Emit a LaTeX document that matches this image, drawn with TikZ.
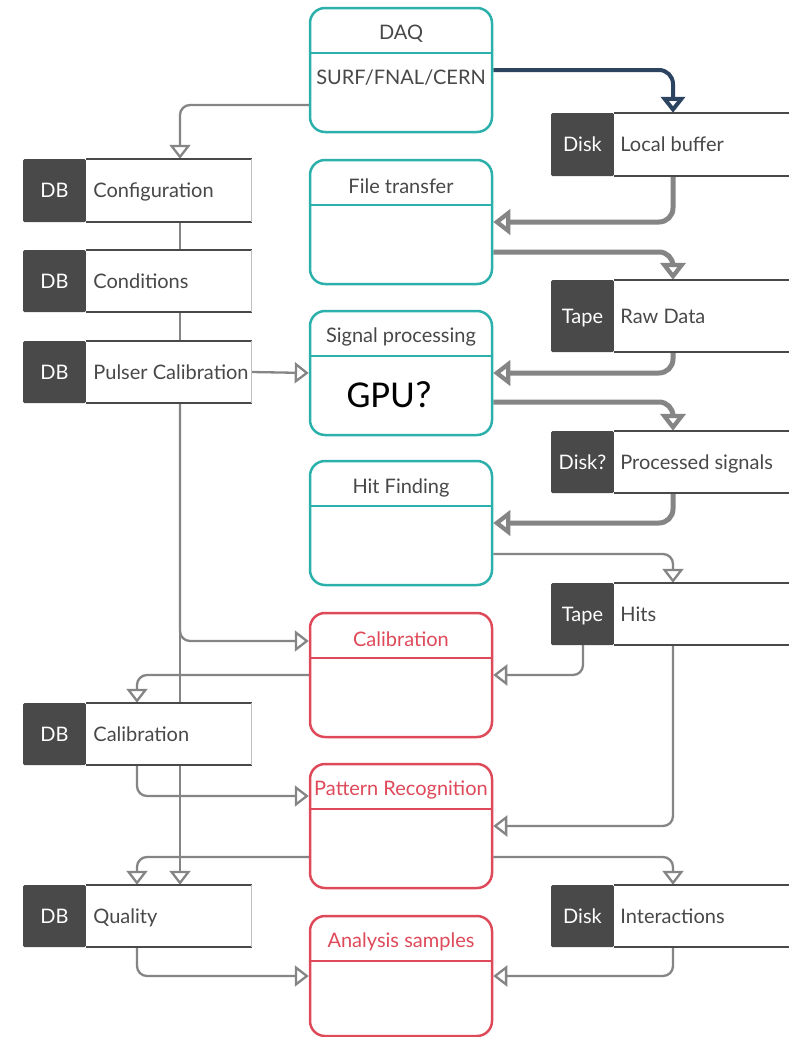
\documentclass[tikz,border=0pt]{standalone}
\usepackage{fontspec}
\setmainfont{Lato}
\newfontfamily\gpufont{Carlito}
\usetikzlibrary{arrows.meta,calc}
\pgfdeclarelayer{bg}
\pgfsetlayers{bg,main}
\definecolor{cteal}{HTML}{2BB0AC}
\definecolor{cred}{HTML}{DF4A5A}
\definecolor{cdark}{HTML}{494949}
\definecolor{cline}{HTML}{858585}
\definecolor{cnavy}{HTML}{2D4461}
\definecolor{ctext}{HTML}{484848}
\newcommand{\lstore}[5]{%
  \node[tag, minimum height=#3] (#1tag) at (54.5,#2) {#4};
  \node[dbw, minimum height=#3, anchor=west] (#1) at (#1tag.east) {};
  \node[lbl] (#1lbl) at ($(#1.west)+(7,0)$) {#5};
  \draw[rim] (#1.north west) -- (#1.north east);
  \draw[rim] (#1.south west) -- (#1.south east);
  \draw[sideedge] (#1.north east) -- (#1.south east);
}
\newcommand{\rstore}[5]{%
  \node[tag, minimum height=#3] (#1tag) at (582.5,#2) {#4};
  \node[dkw, minimum height=#3, anchor=west] (#1) at (#1tag.east) {};
  \node[lbl] (#1lbl) at ($(#1.west)+(6,0)$) {#5};
  \draw[rim] (#1.north west) -- (#1.north east);
  \draw[rim] (#1.south west) -- (#1.south east);
}
\begin{document}
\begin{tikzpicture}[x=1pt,y=-1pt,
  font=\fontsize{20}{23}\selectfont,
  box/.style={draw, line width=2.5pt, rounded corners=15pt, fill=white,
    minimum width=182pt, minimum height=124pt, inner sep=0pt},
  tealbox/.style={box, draw=cteal},
  redbox/.style={box, draw=cred},
  btitle/.style={inner sep=0pt, text height=14pt, text depth=0pt},
  tag/.style={fill=cdark, text=white, minimum width=63pt, inner sep=0pt,
    rounded corners=1.5pt, text height=14pt, text depth=0pt},
  dbw/.style={fill=white, minimum width=165pt, inner sep=0pt},
  dkw/.style={fill=white, minimum width=176pt, inner sep=0pt},
  lbl/.style={text=ctext, anchor=west, inner sep=0pt, text height=14pt, text depth=0pt},
  rim/.style={draw=cdark, line width=2.5pt},
  sideedge/.style={draw=black!25, line width=0.8pt},
  plain/.style={draw=cline, line width=2.3pt},
  conn/.style={draw=cline, line width=2.3pt, rounded corners=10pt,
    -{Triangle[open, width=21pt, length=14pt]}},
  thick/.style={draw=cline, line width=5pt, rounded corners=14pt,
    -{Triangle[open, width=25pt, length=17pt]}},
  navy/.style={draw=cnavy, line width=4pt, rounded corners=14pt,
    -{Triangle[open, width=24pt, length=16pt]}}
]
\useasboundingbox (0,0) rectangle (789,1037);

\coordinate (L1) at (180,0);
\coordinate (L2) at (137,0);
\coordinate (R) at (673,0);
\coordinate (R2) at (583,0);

% centre process boxes
\node[tealbox] (daq) at (401,70) {};
\node[btitle, text=ctext] (daqt) at ($(daq.north)+(0,26)$) {DAQ};
\draw[cteal, line width=2.5pt] ($(daq.north west)+(0,46)$) -- ($(daq.north east)+(0,46)$);
\node[btitle, text=ctext] (daqb) at ($(daq.north)+(0,71)$) {SURF/FNAL/CERN};

\node[tealbox] (ft) at (401,222) {};
\node[btitle, text=ctext] (ftt) at ($(ft.north)+(0,28)$) {File transfer};
\draw[cteal, line width=2.5pt] ($(ft.north west)+(0,46)$) -- ($(ft.north east)+(0,46)$);

\node[tealbox] (sig) at (401,373) {};
\node[btitle, text=ctext] (sigt) at ($(sig.north)+(0,26)$) {Signal processing};
\draw[cteal, line width=2.5pt] ($(sig.north west)+(0,46)$) -- ($(sig.north east)+(0,46)$);
\node[inner sep=0pt, font=\gpufont\fontsize{38}{40}\selectfont, text height=24pt, text depth=0pt] (gpu) at (389.5,395) {GPU?};

\node[tealbox] (hf) at (401,523) {};
\node[btitle, text=ctext] (hft) at ($(hf.north)+(0,27)$) {Hit Finding};
\draw[cteal, line width=2.5pt] ($(hf.north west)+(0,46)$) -- ($(hf.north east)+(0,46)$);

\node[redbox] (calr) at (401,675) {};
\node[btitle, text=cred] (calrt) at ($(calr.north)+(0,28)$) {Calibration};
\draw[cred, line width=2.5pt] ($(calr.north west)+(0,46)$) -- ($(calr.north east)+(0,46)$);

\node[redbox] (pr) at (401,826) {};
\node[btitle, text=cred] (prt) at ($(pr.north)+(0,26)$) {Pattern Recognition};
\draw[cred, line width=2.5pt] ($(pr.north west)+(0,46)$) -- ($(pr.north east)+(0,46)$);

\node[redbox, minimum height=120pt] (ana) at (401,976) {};
\node[btitle, text=cred] (anat) at ($(ana.north)+(0,26)$) {Analysis samples};
\draw[cred, line width=2.5pt] ($(ana.north west)+(0,46)$) -- ($(ana.north east)+(0,46)$);

% left DB stores
\lstore{cfg}{190.5}{63pt}{DB}{Configuration}
\lstore{cond}{281}{62pt}{DB}{Conditions}
\lstore{pul}{372}{62pt}{DB}{Pulser Calibration}
\lstore{cdb}{734}{62pt}{DB}{Calibration}
\lstore{qual}{916}{62pt}{DB}{Quality}

% right stores
\rstore{buf}{144.5}{63pt}{Disk}{Local buffer}
\rstore{raw}{316}{72pt}{Tape}{Raw Data}
\rstore{psig}{462}{62pt}{Disk?}{Processed signals}
\rstore{hits}{614}{62pt}{Tape}{Hits}
\rstore{inter}{916}{62pt}{Disk}{Interactions}

\begin{pgfonlayer}{bg}
\fill[white] (0,0) rectangle (789,1037);
\draw[navy] (daq.east) -| (buf.north -| R);
\draw[conn] ($(daq.west)+(0,35)$) -| (cfg.north -| L1);
\draw[plain] (cfg.south -| L1) -- (cond.north -| L1);
\draw[plain] (cond.south -| L1) -- (pul.north -| L1);
\draw[conn] (pul.south -| L1) -- (qual.north -| L1);
\draw[conn] (pul.south -| L1) |- ($(calr.west)+(0,-34)$);
\draw[conn] (pul.east) -- (sig.west);
\draw[thick] (buf.south -| R) |- (ft.east);
\draw[thick] ($(ft.east)+(0,30)$) -| (raw.north -| R);
\draw[thick] (raw.south -| R) |- (sig.east);
\draw[thick] ($(sig.east)+(0,29)$) -| (psig.north -| R);
\draw[thick] (psig.south -| R) |- (hf.east);
\draw[conn] ($(hf.east)+(0,31)$) -| (hits.north -| R);
\draw[conn] (hitstag.south -| R2) |- (calr.east);
\draw[conn] (hits.south -| R) |- (pr.east);
\draw[conn] (calr.west) -| (cdb.north -| L2);
\draw[conn] (cdb.south -| L2) |- ($(pr.west)+(0,-30)$);
\draw[conn] ($(pr.west)+(0,31)$) -| (qual.north -| L2);
\draw[conn] ($(pr.east)+(0,31)$) -| (inter.north -| R);
\draw[conn] (qual.south -| L2) |- (ana.west);
\draw[conn] (inter.south -| R) |- (ana.east);
\end{pgfonlayer}
\end{tikzpicture}
\end{document}
